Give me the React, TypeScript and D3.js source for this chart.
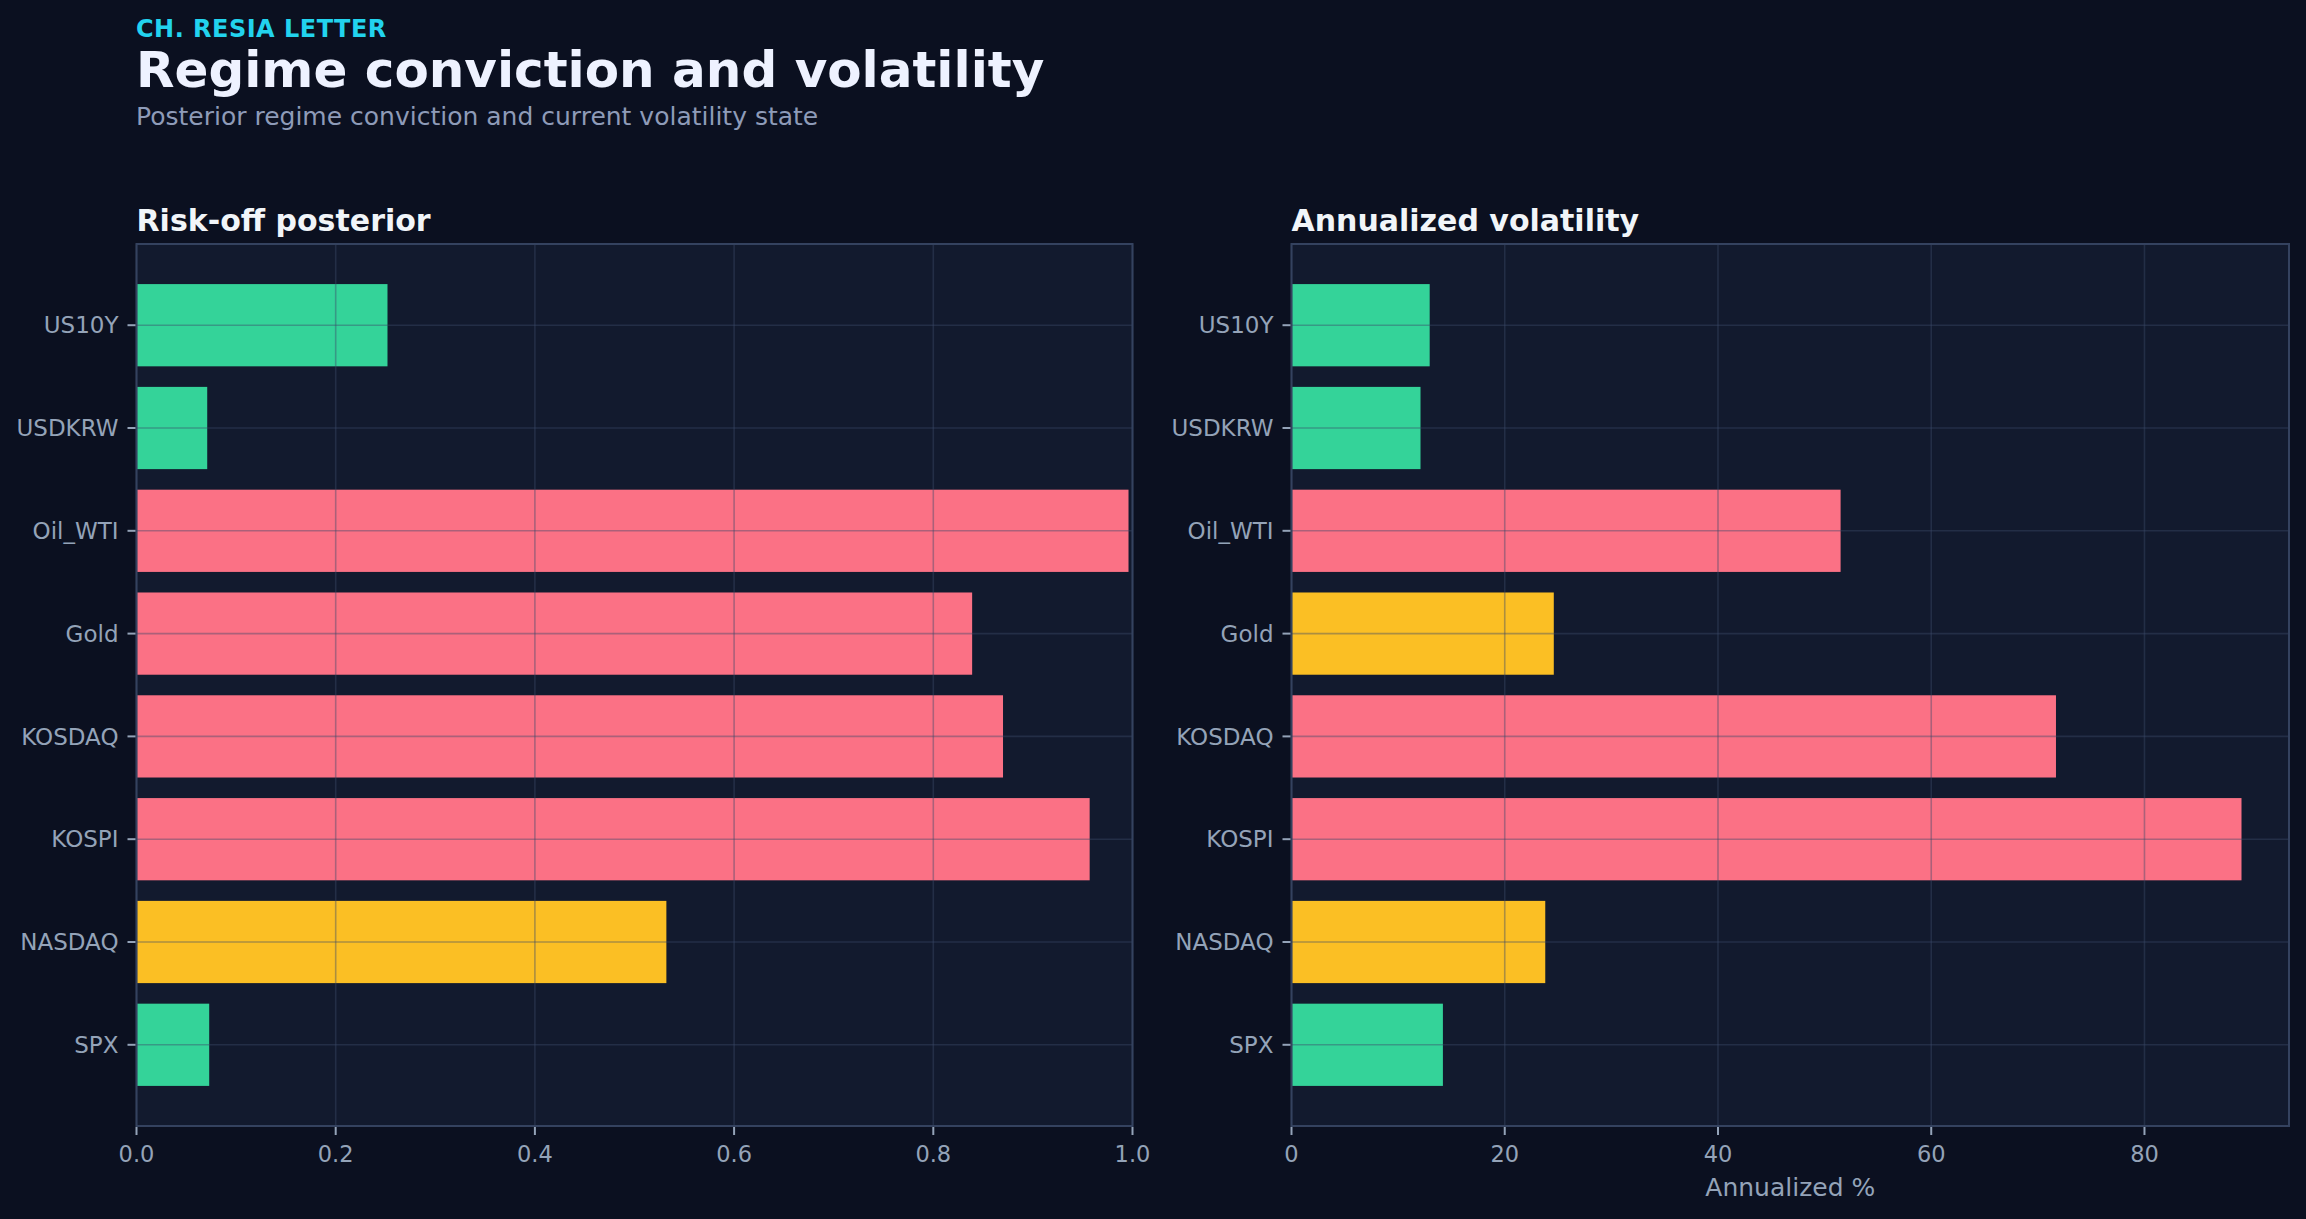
import React, { useEffect, useRef } from 'react';
import * as d3 from 'd3';

// categories listed bottom -> top, as barh draws them
const assets = ["SPX", "NASDAQ", "KOSPI", "KOSDAQ", "Gold", "Oil_WTI", "USDKRW", "US10Y"];
const riskOffPosterior = [0.073, 0.532, 0.957, 0.870, 0.839, 0.996, 0.071, 0.252];
const posteriorState = ["calm", "mid", "high", "high", "high", "high", "calm", "calm"];
const annualizedVol = [14.2, 23.8, 89.1, 71.7, 24.6, 51.5, 12.1, 12.96];
const volState = ["calm", "mid", "high", "high", "mid", "high", "calm", "calm"];
const posteriorTicks = [0, 0.2, 0.4, 0.6, 0.8, 1.0];
const volTicks = [0, 20, 40, 60, 80];

const stateColor: Record<string, string> = {
  calm: "#34d399",
  mid: "#fbbf24",
  high: "#fb7185",
};

const W = 2306;
const H = 1219;
const FONT = "'DejaVu Sans', sans-serif";

const App: React.FC = () => {
  const svgRef = useRef<SVGSVGElement>(null);

  useEffect(() => {
    document.body.style.margin = "0";
    document.body.style.background = "#0b1020";
    if (!svgRef.current) return;

    const svg = d3.select(svgRef.current);
    svg.selectAll("*").remove();

    svg.append("rect").attr("width", W).attr("height", H).attr("fill", "#0b1020");

    // Header
    svg.append("text")
      .attr("x", 136).attr("y", 36.5)
      .style("font-family", FONT).style("font-size", "24px").style("font-weight", "700")
      .style("fill", "#22d3ee").style("letter-spacing", "0.02em")
      .text("CH. RESIA LETTER");
    svg.append("text")
      .attr("x", 136).attr("y", 87)
      .style("font-family", FONT).style("font-size", "50px").style("font-weight", "700")
      .style("fill", "#eef2ff")
      .text("Regime conviction and volatility");
    svg.append("text")
      .attr("x", 136).attr("y", 124.5)
      .style("font-family", FONT).style("font-size", "25px")
      .style("fill", "#8e9bb8")
      .text("Posterior regime conviction and current volatility state");

    const top = 244;
    const bottom = 1126;
    const n = assets.length;
    const y = d3.scaleLinear().domain([-0.79, n - 1 + 0.79]).range([bottom, top]);
    const barH = y(0) - y(0.8);

    const panel = (
      x0: number, x1: number, title: string, values: number[], states: string[],
      domainMax: number, ticks: number[], fmt: (v: number) => string, xLabel?: string
    ) => {
      const x = d3.scaleLinear().domain([0, domainMax]).range([x0, x1]);
      const g = svg.append("g");

      g.append("rect")
        .attr("x", x0).attr("y", top).attr("width", x1 - x0).attr("height", bottom - top)
        .attr("fill", "#121a2e");

      g.append("text")
        .attr("x", x0).attr("y", 230.5)
        .style("font-family", FONT).style("font-size", "30px").style("font-weight", "700")
        .style("fill", "#f1f5f9")
        .text(title);

      // Bars
      g.selectAll("rect.bar")
        .data(values)
        .enter()
        .append("rect")
        .attr("class", "bar")
        .attr("x", x(0))
        .attr("y", (_, i) => y(i) - barH / 2)
        .attr("width", (d) => x(d) - x(0))
        .attr("height", barH)
        .attr("fill", (_, i) => stateColor[states[i]]);

      // Grid drawn above bars
      const grid = g.append("g")
        .attr("stroke", "#3b4a68")
        .attr("stroke-opacity", 0.42)
        .attr("stroke-width", 1.6);
      ticks.forEach((t) => {
        grid.append("line").attr("x1", x(t)).attr("x2", x(t)).attr("y1", top).attr("y2", bottom);
      });
      assets.forEach((_, i) => {
        grid.append("line").attr("x1", x0).attr("x2", x1).attr("y1", y(i)).attr("y2", y(i));
      });

      // Frame
      g.append("rect")
        .attr("x", x0).attr("y", top).attr("width", x1 - x0).attr("height", bottom - top)
        .attr("fill", "none").attr("stroke", "#34425f").attr("stroke-width", 2);

      // X ticks
      const xt = g.append("g");
      ticks.forEach((t) => {
        xt.append("line")
          .attr("x1", x(t)).attr("x2", x(t)).attr("y1", bottom + 1).attr("y2", bottom + 9)
          .attr("stroke", "#94a3b8").attr("stroke-width", 2);
        xt.append("text")
          .attr("x", x(t)).attr("y", 1162)
          .attr("text-anchor", "middle")
          .style("font-family", FONT).style("font-size", "22.5px")
          .style("fill", "#94a3b8")
          .text(fmt(t));
      });

      // Y ticks
      const yt = g.append("g");
      assets.forEach((a, i) => {
        yt.append("line")
          .attr("x1", x0 - 9).attr("x2", x0 - 1).attr("y1", y(i)).attr("y2", y(i))
          .attr("stroke", "#94a3b8").attr("stroke-width", 2);
        yt.append("text")
          .attr("x", x0 - 18).attr("y", y(i))
          .attr("dy", "0.36em")
          .attr("text-anchor", "end")
          .style("font-family", FONT).style("font-size", "23px")
          .style("fill", "#94a3b8")
          .text(a);
      });

      if (xLabel) {
        g.append("text")
          .attr("x", (x0 + x1) / 2).attr("y", 1196)
          .attr("text-anchor", "middle")
          .style("font-family", FONT).style("font-size", "25px")
          .style("fill", "#94a3b8")
          .text(xLabel);
      }
    };

    panel(136.5, 1132.5, "Risk-off posterior", riskOffPosterior, posteriorState,
      1.0, posteriorTicks, d3.format(".1f"));
    panel(1291.5, 2289, "Annualized volatility", annualizedVol, volState,
      (d3.max(annualizedVol) as number) * 1.05, volTicks, d3.format("d"), "Annualized %");
  }, []);

  return <svg ref={svgRef} width={W} height={H} style={{ display: "block" }} />;
};

export default App;
